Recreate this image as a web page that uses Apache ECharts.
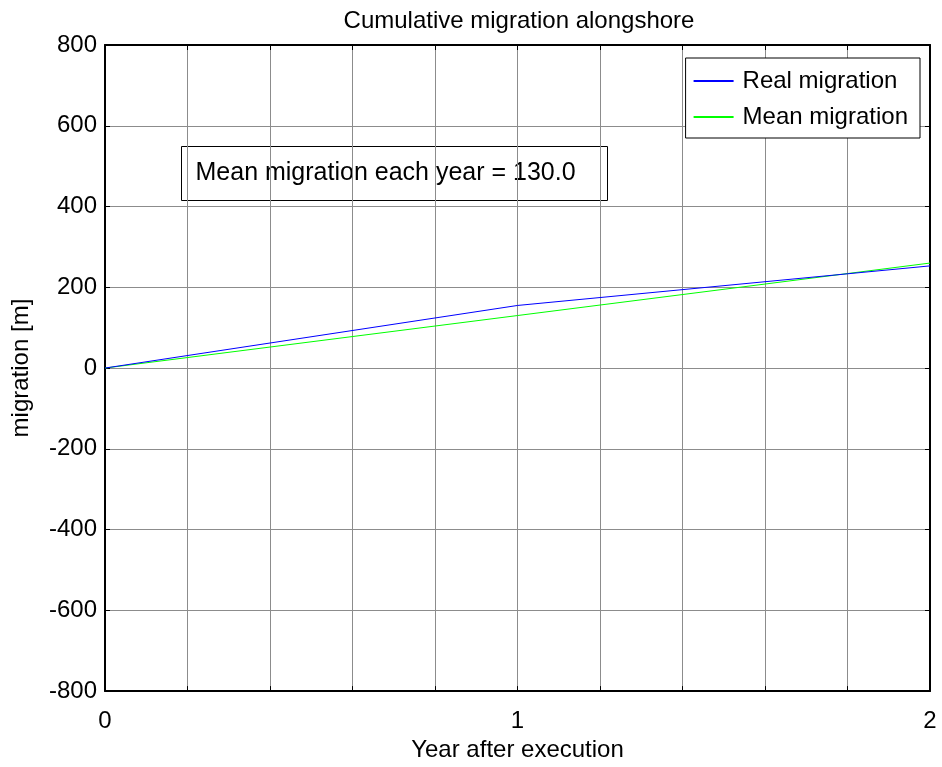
<!DOCTYPE html>
<html>
<head>
<meta charset="utf-8">
<script src="https://cdn.jsdelivr.net/npm/echarts@6/dist/echarts.min.js"></script>
<style>
  html, body { margin: 0; padding: 0; background: #fff; }
  #chart { width: 942px; height: 767px; }
</style>
</head>
<body>
<div id="chart"></div>
<script>
// values
var years = [0, 1, 2];
var realMigration = [0, 155, 253];
var meanYears = [0, 2];
var meanMigration = [0, 260];
var yTicks = [-800, -600, -400, -200, 0, 200, 400, 600, 800];
var xLabels = [0, 1, 2];

var font = '"Liberation Sans", Arial, sans-serif';
var fsize = 24;

function pairs(xs, ys) {
  var out = [];
  xs.forEach(function (x, i) { out.push([x, ys[i]]); });
  return out;
}

var chart = echarts.init(document.getElementById('chart'));

var tickStyle = { show: true, inside: true, length: 5, lineStyle: { color: '#000', width: 1 } };
var boxLine = { show: true, onZero: false, lineStyle: { color: '#000', width: 2 } };
var gridLine = { show: true, lineStyle: { color: '#8c8c8c', width: 1 } };

var option = {
  backgroundColor: '#fff',
  animation: false,
  title: {
    text: 'Cumulative migration alongshore',
    left: 514,
    top: 4,
    textAlign: 'center',
    textStyle: { fontFamily: font, fontSize: fsize, fontWeight: 'normal', color: '#000' }
  },
  grid: { left: 105, right: 12, top: 45, bottom: 70, containLabel: false },
  legend: {
    data: ['Real migration', 'Mean migration'],
    orient: 'vertical',
    right: 22,
    top: 58,
    padding: [10, 12, 8, 8],
    itemGap: 10,
    itemWidth: 40,
    itemHeight: 2,
    icon: 'rect',
    backgroundColor: '#fff',
    borderColor: '#000',
    borderWidth: 1,
    textStyle: { fontFamily: font, fontSize: fsize, color: '#000', lineHeight: 26, padding: [0, 0, 0, 4] }
  },
  xAxis: [{
    type: 'value',
    min: 0,
    max: 2,
    interval: 0.2,
    name: 'Year after execution',
    nameLocation: 'middle',
    nameGap: 42,
    nameTextStyle: { fontFamily: font, fontSize: fsize, color: '#000' },
    axisLine: boxLine,
    axisTick: tickStyle,
    axisLabel: {
      fontFamily: font, fontSize: fsize, color: '#000', margin: 18,
      formatter: function (v) {
        var r = Math.round(v * 10) / 10;
        return xLabels.indexOf(r) >= 0 ? String(r) : '';
      }
    },
    splitLine: gridLine
  }, {
    type: 'value',
    position: 'top',
    min: 0,
    max: 2,
    interval: 0.2,
    axisLine: boxLine,
    axisTick: tickStyle,
    axisLabel: { show: false },
    splitLine: { show: false }
  }],
  yAxis: [{
    type: 'value',
    min: yTicks[0],
    max: yTicks[yTicks.length - 1],
    interval: 200,
    name: 'migration [m]',
    nameLocation: 'middle',
    nameGap: 72,
    nameTextStyle: { fontFamily: font, fontSize: fsize, color: '#000' },
    axisLine: boxLine,
    axisTick: tickStyle,
    axisLabel: { fontFamily: font, fontSize: fsize, color: '#000', margin: 8 },
    splitLine: gridLine
  }, {
    type: 'value',
    position: 'right',
    min: yTicks[0],
    max: yTicks[yTicks.length - 1],
    interval: 200,
    axisLine: boxLine,
    axisTick: tickStyle,
    axisLabel: { show: false },
    splitLine: { show: false }
  }],
  graphic: [{
    type: 'group',
    left: 179,
    top: 144,
    z: 50,
    children: [{
      type: 'rect',
      shape: { x: 0, y: 0, width: 426, height: 54 },
      style: { fill: 'none', stroke: '#000', lineWidth: 1 }
    }, {
      type: 'text',
      x: 14,
      y: 27,
      style: {
        text: 'Mean migration each year = 130.0',
        font: '25px ' + font,
        fill: '#000',
        verticalAlign: 'middle'
      }
    }]
  }],
  series: [{
    name: 'Real migration',
    type: 'line',
    symbol: 'none',
    color: '#0000ff',
    lineStyle: { color: '#0000ff', width: 1 },
    data: pairs(years, realMigration),
    z: 5
  }, {
    name: 'Mean migration',
    type: 'line',
    symbol: 'none',
    color: '#00ff00',
    lineStyle: { color: '#00ff00', width: 1 },
    data: pairs(meanYears, meanMigration),
    z: 4
  }]
};

chart.setOption(option);
window.onresize = function () { chart.resize(); };
</script>
</body>
</html>
